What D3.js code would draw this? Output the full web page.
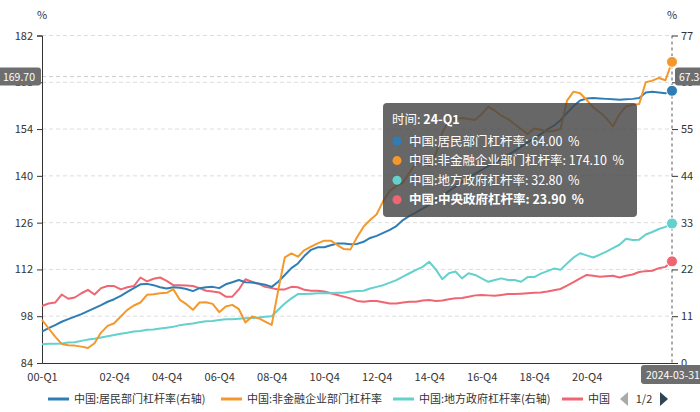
<!DOCTYPE html>
<html><head><meta charset="utf-8">
<script src="https://cdn.jsdelivr.net/npm/d3@7"></script>
<style>
html,body{margin:0;padding:0;background:#fff;}
svg text{font-family:"Noto Sans CJK SC","Noto Sans",sans-serif;}
</style></head>
<body><svg id="c" width="700" height="412"></svg>
<script>
// ---- data ----
const categories = [];
for (let y = 0; y <= 24; y++) for (let q = 1; q <= 4; q++) { if (y === 24 && q > 1) break; categories.push(String(y).padStart(2,"0") + "-Q" + q); }

const seriesNames = ["中国:居民部门杠杆率(右轴)","中国:非金融企业部门杠杆率","中国:地方政府杠杆率(右轴)","中国:中央政府杠杆率"];
const tooltipNames = ["中国:居民部门杠杆率","中国:非金融企业部门杠杆率","中国:地方政府杠杆率","中国:中央政府杠杆率"];

const household = [7.4,8.2,8.9,9.7,10.3,10.9,11.5,12.2,12.9,13.6,14.4,15.0,15.8,16.7,17.6,18.5,18.6,18.3,17.8,17.5,17.8,17.7,17.4,16.9,17.6,17.8,17.9,17.6,18.5,19.0,19.5,19.0,18.9,18.7,18.4,17.9,19.1,20.7,22.3,23.4,25.2,26.6,27.2,27.2,27.7,28.1,28.1,27.9,28.0,28.5,29.4,29.9,30.6,31.3,32.2,33.6,34.6,35.4,36.3,37.2,38.2,39.3,40.4,41.5,42.6,43.6,44.5,45.4,46.3,47.1,47.9,48.9,49.8,50.8,51.9,52.8,53.8,54.9,55.8,57.1,58.8,60.4,61.7,62.2,62.3,62.2,62.1,62.0,61.9,62.0,62.1,62.3,63.6,63.8,63.6,63.4,64.0];
const corporate = [96.9,94.4,91.9,89.7,89.3,89.2,88.9,88.5,89.9,93.1,95.1,95.9,97.9,99.9,101.2,102.1,104.4,104.6,104.9,105.0,106.1,102.9,101.6,99.9,102.1,102.2,101.7,99.2,100.9,101.4,100.1,96.1,97.9,97.4,96.4,95.4,105.8,115.6,116.8,115.8,117.8,118.8,119.8,120.6,120.6,119.3,118.1,118.0,121.6,124.8,126.8,128.5,132.5,135.5,137.0,138.0,141.0,144.0,144.5,143.0,146.5,153.0,156.5,157.0,157.3,157.0,156.7,158.5,160.7,159.5,158.0,157.0,155.5,154.0,152.5,154.2,153.8,153.2,153.5,154.0,162.5,165.2,164.7,162.7,160.5,159.0,157.2,154.8,158.5,160.8,161.3,161.5,168.0,168.5,169.3,168.6,174.1];
const localGov = [4.4,4.5,4.5,4.6,4.8,4.9,5.2,5.5,5.7,6.0,6.3,6.6,6.9,7.1,7.4,7.5,7.8,7.9,8.1,8.3,8.5,8.9,9.1,9.3,9.6,9.8,9.9,10.1,10.3,10.3,10.4,10.5,10.6,10.7,10.9,11.0,12.5,14.0,15.2,16.2,16.2,16.3,16.4,16.4,16.4,16.5,16.5,16.8,16.9,17.0,17.5,17.9,18.3,18.9,19.5,20.3,21.1,21.9,22.6,23.8,22.0,19.7,21.1,21.5,19.9,21.1,20.7,19.9,19.1,19.5,19.9,19.5,19.5,19.1,20.2,20.2,21.0,21.6,22.2,21.9,23.4,24.8,25.8,25.3,24.8,25.5,26.2,27.0,27.8,29.2,28.9,29.0,30.2,30.8,31.5,32.0,32.8];
const centralGov = [13.4,14.0,14.2,16.1,15.1,15.4,16.4,17.2,16.1,17.6,18.1,18.1,17.3,17.8,18.1,20.1,19.2,19.8,20.1,19.3,18.3,18.3,18.2,18.1,17.6,17.0,16.8,16.6,15.6,15.6,17.3,19.7,19.1,18.6,17.9,17.6,17.3,17.3,17.9,17.8,17.2,17.0,17.0,16.8,16.4,16.0,15.6,15.2,14.6,14.4,14.6,14.6,14.3,14.0,14.0,14.2,14.4,14.4,14.7,14.8,14.6,14.7,15.0,15.2,15.3,15.6,15.9,16.0,15.9,15.8,16.0,16.2,16.2,16.3,16.4,16.5,16.6,16.8,17.1,17.4,18.2,19.0,19.9,20.7,20.5,20.3,20.4,20.5,20.1,20.5,20.8,21.4,21.6,21.7,22.3,22.6,23.9];

const leftTicks = [84,98,112,126,140,154,168,182];
const rightTicks = [0,11,22,33,44,55,66,77];
const xTickLabels = ["00-Q1","02-Q4","04-Q4","06-Q4","08-Q4","10-Q4","12-Q4","14-Q4","16-Q4","18-Q4","20-Q4","24-Q1"];
const colors = ["#2f7db5","#f5982c","#63d1cd","#ef6571"];

// ---- chart ----
const svg = d3.select("#c");
const L = 42, R = 672, T = 35.5, B = 363;
const x = d3.scalePoint(categories, [L, R]);
const yL = d3.scaleLinear([84,182],[B,T]);
const yR = d3.scaleLinear([0,77],[B,T]);

// grid
svg.append("g").selectAll("line").data(leftTicks.slice(1)).join("line")
  .attr("x1",L).attr("x2",R).attr("y1",d=>yL(d)).attr("y2",d=>yL(d))
  .attr("stroke","#ddd").attr("stroke-dasharray","4,3");

// crosshair horizontal
const crossVal = 169.70;
svg.append("line").attr("x1",L).attr("x2",R).attr("y1",yL(crossVal)).attr("y2",yL(crossVal))
  .attr("stroke","#ccc").attr("stroke-dasharray","4,3");

// left axis
const minorL = d3.range(0,22).map(k=>84+k*14/3);
const gL = svg.append("g").attr("transform",`translate(${L},0)`);
gL.call(d3.axisLeft(yL).tickValues(minorL).tickSize(5).tickFormat(""));
gL.call(d3.axisLeft(yL).tickValues(leftTicks).tickSize(5).tickPadding(4));
gL.selectAll(".domain").attr("stroke","#333");
gL.selectAll("line").attr("stroke","#333");
gL.selectAll("text").attr("font-size",11).attr("fill","#333");

// right axis
const gR = svg.append("g").attr("transform",`translate(${R},0)`);
gR.call(d3.axisRight(yR).tickValues(rightTicks).tickSize(6).tickPadding(3));
gR.call(g=>g.select(".domain").remove());
gR.selectAll("line").attr("stroke","#333");
gR.selectAll("text").attr("font-size",11).attr("fill","#333");

// x axis
const tickCats = categories.filter((c,i)=> i===0 || i%4===3);
const gX = svg.append("g").attr("transform",`translate(0,${B})`);
gX.call(d3.axisBottom(x).tickValues(tickCats).tickSize(6).tickFormat(""));
gX.call(d3.axisBottom(x).tickValues(xTickLabels).tickSize(0).tickPadding(10));
gX.selectAll(".domain").attr("stroke","#333");
gX.selectAll("line").attr("stroke","#333");
gX.selectAll("text").attr("font-size",11).attr("fill","#333");

// unit labels
svg.append("text").attr("x",L).attr("y",19).attr("text-anchor","middle").attr("font-size",11).attr("fill","#333").text("%");
svg.append("text").attr("x",R).attr("y",19).attr("text-anchor","middle").attr("font-size",11).attr("fill","#333").text("%");

// lines
const series = [
  {v:household, y:yR}, {v:corporate, y:yL}, {v:localGov, y:yR}, {v:centralGov, y:yR}
];
const drawOrder = [3,2,0,1];
drawOrder.forEach(k=>{
  const s = series[k];
  svg.append("path").datum(s.v)
    .attr("fill","none").attr("stroke",colors[k]).attr("stroke-width",2)
    .attr("stroke-linejoin","round")
    .attr("d", d3.line().x((d,i)=>x(categories[i])).y(d=>s.y(d)));
});

// crosshair vertical
svg.append("line").attr("x1",R).attr("x2",R).attr("y1",T).attr("y2",B)
  .attr("stroke","#555").attr("stroke-dasharray","3,3");

// end dots
const last = categories.length-1;
series.forEach((s,k)=>{
  svg.append("circle").attr("cx",x(categories[last])).attr("cy",s.y(s.v[last]))
    .attr("r",5.5).attr("fill",colors[k]).attr("stroke","#fff").attr("stroke-width",1);
});

// axis pointer labels
function pill(cx, cy, w, h, txt, anchor){
  const g = svg.append("g");
  g.append("rect").attr("x",cx).attr("y",cy).attr("width",w).attr("height",h).attr("rx",3)
    .attr("fill","#6e6e6e");
  g.append("text").attr("x",anchor==="middle"?cx+w/2:cx+4).attr("y",cy+h/2+4)
    .attr("text-anchor",anchor).attr("font-size",10.5).attr("fill","#fff").text(txt);
}
pill(-3, yL(crossVal)-9, 44, 18, crossVal.toFixed(2), "middle");
pill(675, yR(yR.invert(yL(crossVal)))-9, 40, 18, yR.invert(yL(crossVal)).toFixed(2), "start");
pill(x(categories[last])-31, B+2, 64, 19, "2024-03-31", "middle");

// tooltip
const tt = svg.append("g");
tt.append("rect").attr("x",383).attr("y",103).attr("width",254).attr("height",114).attr("rx",4)
  .attr("fill","rgba(70,70,70,0.82)");
const title = tt.append("text").attr("x",392).attr("y",124).attr("font-size",12.5).attr("fill","#fff");
title.append("tspan").text("时间: ");
title.append("tspan").attr("font-weight","bold").text(categories[last]);
const vals = [household[last], corporate[last], localGov[last], centralGov[last]];
vals.forEach((v,k)=>{
  const yy = 141 + k*19.6;
  tt.append("circle").attr("cx",397).attr("cy",yy).attr("r",4.5).attr("fill",colors[k]);
  tt.append("text").attr("x",409).attr("y",yy+4.5).attr("font-size",12.5).attr("fill","#fff")
    .attr("font-weight", k===3?"bold":"normal")
    .text(tooltipNames[k] + ": " + v.toFixed(2) + "  %").attr("xml:space","preserve");
});

// legend
const legX = [48, 221, 393, 562];
const lg = svg.append("g");
seriesNames.forEach((n,k)=>{
  lg.append("line").attr("x1",legX[k]).attr("x2",legX[k]+21).attr("y1",399).attr("y2",399)
    .attr("stroke",colors[k]).attr("stroke-width",3);
  lg.append("text").attr("x",legX[k]+26).attr("y",403).attr("font-size",11).attr("fill","#333")
    .text(k===3 ? "中国" : n);
});
lg.append("path").attr("d","M628,392 L620,399 L628,406 Z").attr("fill","#aaa");
lg.append("text").attr("x",644).attr("y",403).attr("text-anchor","middle").attr("font-size",11).attr("fill","#333").text("1/2");
lg.append("path").attr("d","M660,392 L668,399 L660,406 Z").attr("fill","#2f4554");
</script></body></html>
